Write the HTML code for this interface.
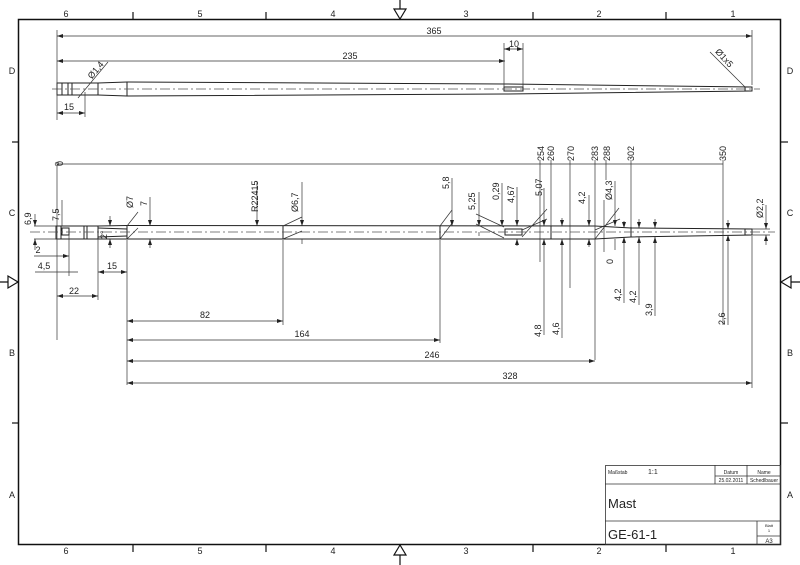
<!DOCTYPE html>
<html><head><meta charset="utf-8"><style>
html,body{margin:0;padding:0;background:#fff;}
svg{display:block}
text{font-family:"Liberation Sans",sans-serif;fill:#222;}
</style></head><body>
<svg width="800" height="565" viewBox="0 0 800 565" xmlns="http://www.w3.org/2000/svg">
<defs>
<marker id="a" markerWidth="6" markerHeight="4" refX="6" refY="2" orient="auto-start-reverse" markerUnits="userSpaceOnUse"><path d="M0,0 L6,2 L0,4z" fill="#222"/></marker>
</defs>
<!-- frame -->
<rect x="18.5" y="19.5" width="762" height="525" fill="none" stroke="#111" stroke-width="1.5"/>
<g stroke="#111" stroke-width="1.2">
<line x1="133" y1="12" x2="133" y2="19"/><line x1="266" y1="12" x2="266" y2="19"/><line x1="533" y1="12" x2="533" y2="19"/><line x1="666" y1="12" x2="666" y2="19"/>
<line x1="133" y1="545" x2="133" y2="552"/><line x1="266" y1="545" x2="266" y2="552"/><line x1="533" y1="545" x2="533" y2="552"/><line x1="666" y1="545" x2="666" y2="552"/>
<line x1="12" y1="142" x2="18" y2="142"/><line x1="12" y1="423" x2="18" y2="423"/>
<line x1="781" y1="142" x2="788" y2="142"/><line x1="781" y1="423" x2="788" y2="423"/>
<line x1="400" y1="0" x2="400" y2="19"/><line x1="400" y1="545" x2="400" y2="565"/>
<line x1="0" y1="282" x2="18" y2="282"/><line x1="781" y1="282" x2="800" y2="282"/>
</g>
<g fill="#fff" stroke="#111" stroke-width="1.2">
<path d="M394,9 L406,9 L400,19z"/><path d="M394,555 L406,555 L400,545z"/>
<path d="M8,276 L8,288 L18,282z"/><path d="M791,276 L791,288 L781,282z"/>
</g>
<g font-size="9" text-anchor="middle">
<text x="66" y="17">6</text><text x="200" y="17">5</text><text x="333" y="17">4</text><text x="466" y="17">3</text><text x="599" y="17">2</text><text x="733" y="17">1</text>
<text x="66" y="554">6</text><text x="200" y="554">5</text><text x="333" y="554">4</text><text x="466" y="554">3</text><text x="599" y="554">2</text><text x="733" y="554">1</text>
<text x="12" y="74">D</text><text x="12" y="216">C</text><text x="12" y="356">B</text><text x="12" y="498">A</text>
<text x="790" y="74">D</text><text x="790" y="216">C</text><text x="790" y="356">B</text><text x="790" y="498">A</text>
</g>

<!-- TOP VIEW -->
<g stroke="#222" stroke-width="1" fill="none">
<path d="M57,83 L98,83 L127,82 L505,84 L752,87 L752,91 L505,94 L127,96 L98,95 L57,95z"/>
<line x1="62" y1="83" x2="62" y2="95"/><line x1="68" y1="83" x2="68" y2="95"/><line x1="72" y1="83" x2="72" y2="95"/><line x1="98" y1="83" x2="98" y2="95"/><line x1="127" y1="82" x2="127" y2="96"/>
<rect x="504" y="87" width="19" height="4"/>
<rect x="745" y="87" width="7" height="4"/>
</g>
<line x1="52" y1="89" x2="760" y2="89" stroke="#555" stroke-width="0.7" stroke-dasharray="10,3,2,3"/>
<g stroke="#333" stroke-width="0.7" fill="none">
<line x1="57" y1="30" x2="57" y2="120"/><line x1="752" y1="30" x2="752" y2="85"/>
<line x1="57" y1="36" x2="752" y2="36" marker-start="url(#a)" marker-end="url(#a)"/>
<line x1="57" y1="61" x2="505" y2="61" marker-start="url(#a)" marker-end="url(#a)"/>
<line x1="504" y1="43" x2="504" y2="87"/><line x1="523" y1="43" x2="523" y2="87"/>
<line x1="504" y1="49" x2="523" y2="49" marker-start="url(#a)" marker-end="url(#a)"/>
<line x1="85" y1="92" x2="85" y2="117"/>
<line x1="57" y1="113" x2="85" y2="113" marker-start="url(#a)" marker-end="url(#a)"/>
<line x1="78" y1="98" x2="108" y2="62"/>
<line x1="710" y1="52" x2="745" y2="87"/>
</g>
<g font-size="9" text-anchor="middle">
<text x="434" y="34">365</text><text x="350" y="59">235</text><text x="514" y="47">10</text><text x="69" y="110">15</text>
<text transform="translate(98,72) rotate(-50)">Ø1,4</text>
<text transform="translate(722,60) rotate(48)">Ø1x5</text>
</g>

<!-- MAIN VIEW -->
<g stroke="#222" stroke-width="1" fill="none">
<path d="M56,226 L98,226 L127,225.5 L595,226 L631,228 L752,229 L752,235 L631,237 L595,239 L127,239 L98,239 L56,239z"/>
<line x1="61" y1="226" x2="61" y2="239"/><line x1="84" y1="226" x2="84" y2="239"/><line x1="87" y1="226" x2="87" y2="239"/><line x1="98" y1="226" x2="98" y2="239"/>
<path d="M98,228 L127,229 M98,237 L127,236"/>
<line x1="127" y1="225" x2="127" y2="239"/>
<rect x="62" y="228" width="7" height="7"/>
<line x1="283" y1="226" x2="283" y2="239"/><line x1="440" y1="226" x2="440" y2="239"/>
<rect x="505" y="229" width="17" height="6"/>
<line x1="551" y1="226" x2="551" y2="239"/><line x1="631" y1="227" x2="631" y2="237"/>
<rect x="745" y="229" width="7" height="6"/>
</g>
<line x1="30" y1="232" x2="775" y2="232" stroke="#555" stroke-width="0.7" stroke-dasharray="10,3,2,3"/>
<g stroke="#333" stroke-width="0.7" fill="none">
<!-- datum line -->
<line x1="57" y1="164" x2="723" y2="164"/>
<circle cx="57" cy="164" r="1.8"/>
<line x1="57" y1="166" x2="57" y2="340"/>
<line x1="540" y1="160" x2="540" y2="262"/><line x1="551" y1="160" x2="551" y2="226"/><line x1="570" y1="160" x2="570" y2="288"/><line x1="595" y1="160" x2="595" y2="360"/><line x1="606" y1="160" x2="606" y2="180"/><line x1="631" y1="160" x2="631" y2="228"/><line x1="723" y1="160" x2="723" y2="325"/>
<!-- left small dims -->
<line x1="34" y1="226" x2="56" y2="226"/><line x1="34" y1="239" x2="56" y2="239"/>
<line x1="35" y1="214" x2="35" y2="226" marker-end="url(#a)"/><line x1="35" y1="250" x2="35" y2="239" marker-end="url(#a)"/>
<line x1="62" y1="200" x2="62" y2="226"/>
<line x1="69" y1="235" x2="69" y2="276"/>
<line x1="34" y1="256" x2="69" y2="256" marker-end="url(#a)"/><line x1="57" y1="256" x2="57" y2="256"/>
<line x1="35" y1="272" x2="78" y2="272"/>
<line x1="98" y1="239" x2="98" y2="300"/>
<line x1="57" y1="296" x2="98" y2="296" marker-start="url(#a)" marker-end="url(#a)"/>
<line x1="98" y1="272" x2="127" y2="272" marker-start="url(#a)" marker-end="url(#a)"/>
<line x1="110" y1="216" x2="110" y2="226" marker-end="url(#a)"/><line x1="110" y1="248" x2="110" y2="239" marker-end="url(#a)"/>
<line x1="127" y1="240" x2="127" y2="385"/>
<line x1="127" y1="226" x2="138" y2="212"/><line x1="127" y1="239" x2="138" y2="228"/>
<line x1="150" y1="197" x2="150" y2="226" marker-end="url(#a)"/><line x1="150" y1="248" x2="150" y2="239" marker-end="url(#a)"/>
<!-- R, phi6.7 -->
<line x1="257" y1="182" x2="257" y2="226" marker-end="url(#a)"/>
<line x1="283" y1="240" x2="283" y2="325"/>
<line x1="283" y1="226" x2="302" y2="217"/><line x1="283" y1="239" x2="302" y2="231"/>
<line x1="302" y1="182" x2="302" y2="226" marker-end="url(#a)"/><line x1="302" y1="244" x2="302" y2="239"/>
<!-- 5,8 -->
<line x1="440" y1="240" x2="440" y2="343"/>
<line x1="440" y1="226" x2="452" y2="210"/><line x1="440" y1="239" x2="453" y2="222"/>
<line x1="452" y1="178" x2="452" y2="226" marker-end="url(#a)"/>
<!-- 5,25 0,29 4,67 -->
<line x1="479" y1="192" x2="479" y2="226" marker-end="url(#a)"/><line x1="479" y1="232" x2="479" y2="236"/>
<line x1="476" y1="214" x2="504" y2="227"/><line x1="476" y1="224" x2="504" y2="238"/>
<line x1="502" y1="183" x2="502" y2="226" marker-end="url(#a)"/>
<line x1="517" y1="187" x2="517" y2="226" marker-end="url(#a)"/><line x1="517" y1="246" x2="517" y2="239" marker-end="url(#a)"/>
<line x1="522" y1="237" x2="547" y2="209"/><line x1="522" y1="230" x2="547" y2="219"/>
<line x1="544" y1="188" x2="544" y2="226" marker-end="url(#a)"/><line x1="544" y1="335" x2="544" y2="239" marker-end="url(#a)"/>
<line x1="562" y1="218" x2="562" y2="226" marker-end="url(#a)"/><line x1="562" y1="338" x2="562" y2="239" marker-end="url(#a)"/>
<line x1="589" y1="195" x2="589" y2="226" marker-end="url(#a)"/><line x1="589" y1="247" x2="589" y2="239" marker-end="url(#a)"/>
<line x1="595" y1="239" x2="619" y2="208"/><line x1="595" y1="230" x2="620" y2="219"/>
<line x1="604" y1="200" x2="604" y2="252"/>
<line x1="615" y1="181" x2="615" y2="226" marker-end="url(#a)"/><line x1="615" y1="250" x2="615" y2="239"/>
<line x1="624" y1="221" x2="624" y2="228" marker-end="url(#a)"/><line x1="624" y1="303" x2="624" y2="237" marker-end="url(#a)"/>
<line x1="639" y1="219" x2="639" y2="228" marker-end="url(#a)"/><line x1="639" y1="305" x2="639" y2="237" marker-end="url(#a)"/>
<line x1="655" y1="219" x2="655" y2="228" marker-end="url(#a)"/><line x1="655" y1="316" x2="655" y2="237" marker-end="url(#a)"/>
<line x1="728" y1="220" x2="728" y2="229" marker-end="url(#a)"/><line x1="728" y1="325" x2="728" y2="235" marker-end="url(#a)"/>
<line x1="752" y1="236" x2="752" y2="388"/>
<line x1="766" y1="205" x2="766" y2="229" marker-end="url(#a)"/><line x1="766" y1="245" x2="766" y2="235" marker-end="url(#a)"/>
<line x1="752" y1="229" x2="770" y2="229"/><line x1="752" y1="235" x2="770" y2="235"/>
<!-- bottom chain -->
<line x1="127" y1="321" x2="283" y2="321" marker-start="url(#a)" marker-end="url(#a)"/>
<line x1="127" y1="340" x2="440" y2="340" marker-start="url(#a)" marker-end="url(#a)"/>
<line x1="127" y1="361" x2="595" y2="361" marker-start="url(#a)" marker-end="url(#a)"/>
<line x1="127" y1="383" x2="752" y2="383" marker-start="url(#a)" marker-end="url(#a)"/>
</g>
<g font-size="9" text-anchor="middle">
<text x="205" y="318">82</text><text x="302" y="337">164</text><text x="432" y="358">246</text><text x="510" y="379">328</text>
<text x="74" y="294">22</text><text x="112" y="269">15</text><text x="44" y="269">4,5</text><text x="38" y="253">2</text>
</g>
<g font-size="9">
<text transform="translate(63,166) rotate(-90)">0</text>
<text transform="translate(31,225) rotate(-90)">6,9</text>
<text transform="translate(59,221) rotate(-90)">7,5</text>
<text transform="translate(133,208) rotate(-90)">Ø7</text>
<text transform="translate(147,206) rotate(-90)">7</text>
<text transform="translate(107,239) rotate(-90)">2°</text>
<text transform="translate(258,212) rotate(-90)">R22415</text>
<text transform="translate(298,212) rotate(-90)">Ø6,7</text>
<text transform="translate(449,189) rotate(-90)">5,8</text>
<text transform="translate(475,210) rotate(-90)">5,25</text>
<text transform="translate(499,200) rotate(-90)">0,29</text>
<text transform="translate(514,203) rotate(-90)">4,67</text>
<text transform="translate(542,196) rotate(-90)">5,07</text>
<text transform="translate(544,161) rotate(-90)">254</text>
<text transform="translate(554,161) rotate(-90)">260</text>
<text transform="translate(574,161) rotate(-90)">270</text>
<text transform="translate(598,161) rotate(-90)">283</text>
<text transform="translate(610,161) rotate(-90)">288</text>
<text transform="translate(634,161) rotate(-90)">302</text>
<text transform="translate(726,161) rotate(-90)">350</text>
<text transform="translate(585,204) rotate(-90)">4,2</text>
<text transform="translate(612,200) rotate(-90)">Ø4,3</text>
<text transform="translate(613,264) rotate(-90)">0</text>
<text transform="translate(541,337) rotate(-90)">4,8</text>
<text transform="translate(559,335) rotate(-90)">4,6</text>
<text transform="translate(621,301) rotate(-90)">4,2</text>
<text transform="translate(636,303) rotate(-90)">4,2</text>
<text transform="translate(652,316) rotate(-90)">3,9</text>
<text transform="translate(725,325) rotate(-90)">2,6</text>
<text transform="translate(763,218) rotate(-90)">Ø2,2</text>
</g>

<!-- title block -->
<g stroke="#333" stroke-width="0.8" fill="none">
<rect x="605.5" y="465.5" width="175" height="79"/>
<line x1="605" y1="484" x2="781" y2="484"/>
<line x1="605" y1="521" x2="781" y2="521"/>
<line x1="715" y1="465" x2="715" y2="484"/>
<line x1="747" y1="465" x2="747" y2="484"/>
<line x1="715" y1="476" x2="781" y2="476"/>
<line x1="757" y1="521" x2="757" y2="545"/>
<line x1="757" y1="536" x2="781" y2="536"/>
</g>
<text x="608" y="474" font-size="5">Maßstab</text>
<text x="648" y="474" font-size="7">1:1</text>
<text x="731" y="474" font-size="5" text-anchor="middle">Datum</text>
<text x="764" y="474" font-size="5" text-anchor="middle">Name</text>
<text x="731" y="482" font-size="5" text-anchor="middle">25.02.2011</text>
<text x="764" y="482" font-size="5" text-anchor="middle">Schedlbauer</text>
<text x="608" y="508" font-size="13">Mast</text>
<text x="608" y="539" font-size="13">GE-61-1</text>
<text x="769" y="527" font-size="4" text-anchor="middle">Blatt</text>
<text x="769" y="532" font-size="4" text-anchor="middle">1</text>
<text x="769" y="543" font-size="6" text-anchor="middle">A3</text>
</svg>
</body></html>
